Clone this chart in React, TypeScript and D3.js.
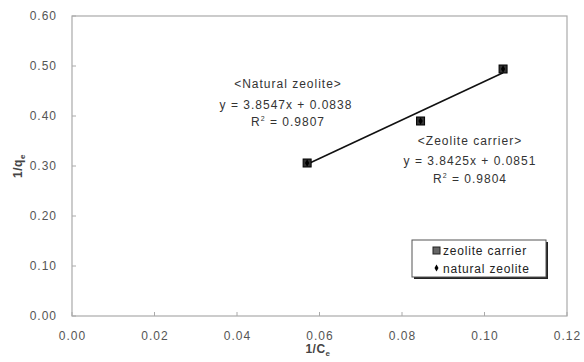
import React from "react";
import * as d3 from "d3";

const xTicks = [0, 0.02, 0.04, 0.06, 0.08, 0.1, 0.12];
const yTicks = [0, 0.1, 0.2, 0.3, 0.4, 0.5, 0.6];
const carrierX = [0.057, 0.0845, 0.1045];
const carrierY = [0.306, 0.39, 0.494];
const naturalX = [0.057, 0.0845, 0.1045];
const naturalY = [0.306, 0.39, 0.494];
const naturalFit = { slope: 3.8547, intercept: 0.0838, r2: "0.9807", label: "<Natural zeolite>", eq: "y = 3.8547x + 0.0838" };
const carrierFit = { slope: 3.8425, intercept: 0.0851, r2: "0.9804", label: "<Zeolite carrier>", eq: "y = 3.8425x + 0.0851" };
const legendLabels = ["zeolite carrier", "natural zeolite"];

const W = 584, H = 362;
const M = { left: 72, top: 16, right: 567, bottom: 316 };

export default function App() {
  const x = d3.scaleLinear().domain([0, 0.12]).range([M.left, M.right]);
  const y = d3.scaleLinear().domain([0, 0.6]).range([M.bottom, M.top]);
  const xmin = d3.min(naturalX)!, xmax = d3.max(naturalX)!;
  const line = d3.line<number>().x((d) => x(d)).y((d) => y(naturalFit.slope * d + naturalFit.intercept));
  const font = "'Liberation Sans', Arial, sans-serif";
  const gray = "#555";
  const axisCol = "#aaa";
  const ls = 1;
  return (
    <svg width={W} height={H} style={{ position: "absolute", left: 0, top: 0, fontFamily: font }}>
      <rect x={0} y={0} width={W} height={H} fill="#fff" />
      <rect x={M.left} y={M.top} width={M.right - M.left} height={M.bottom - M.top} fill="none" stroke={axisCol} strokeWidth={1.2} />
      {yTicks.map((t) => (
        <g key={"y" + t}>
          <line x1={M.left} x2={M.left + 4} y1={y(t)} y2={y(t)} stroke={axisCol} />
          <text x={57} y={y(t)} dy="0.35em" textAnchor="end" fontSize={12} letterSpacing={ls} fill={gray}>{t.toFixed(2)}</text>
        </g>
      ))}
      {xTicks.map((t) => (
        <g key={"x" + t}>
          <line x1={x(t)} x2={x(t)} y1={M.bottom} y2={M.bottom - 4} stroke={axisCol} />
          <text x={x(t) + 0.5} y={339.5} textAnchor="middle" fontSize={12} letterSpacing={ls} fill={gray}>{t.toFixed(2)}</text>
        </g>
      ))}
      <text x={318} y={353} textAnchor="middle" fontSize={12} fontWeight="bold" letterSpacing={0.5} fill="#444">
        1/C<tspan fontSize={8} dy={3}>e</tspan>
      </text>
      <text transform="translate(22,166) rotate(-90)" textAnchor="middle" fontSize={12} fontWeight="bold" letterSpacing={0.5} fill="#444">
        1/q<tspan fontSize={8} dy={3}>e</tspan>
      </text>
      <path d={line([xmin, xmax]) || ""} stroke="#111" strokeWidth={1.6} fill="none" />
      {carrierX.map((d, i) => (
        <rect key={"c" + i} x={x(d) - 4} y={y(carrierY[i]) - 4} width={8} height={8} fill="#333" stroke="#000" strokeWidth={1} />
      ))}
      {naturalX.map((d, i) => (
        <path key={"n" + i} d={d3.symbol(d3.symbolDiamond, 16)() || ""} transform={`translate(${x(d)},${y(naturalY[i])})`} fill="#000" />
      ))}
      <g fontSize={12} letterSpacing={ls} fill="#333" textAnchor="middle">
        <text x={288} y={88}>{naturalFit.label}</text>
        <text x={286} y={109}>{naturalFit.eq}</text>
        <text x={288} y={126}>R<tspan fontSize={7} dy={-5}>2</tspan><tspan dy={5}> = {naturalFit.r2}</tspan></text>
        <text x={470} y={145}>{carrierFit.label}</text>
        <text x={470} y={165}>{carrierFit.eq}</text>
        <text x={470} y={183}>R<tspan fontSize={7} dy={-5}>2</tspan><tspan dy={5}> = {carrierFit.r2}</tspan></text>
      </g>
      <rect x={414} y={242} width={134} height={37} fill="#222" />
      <rect x={412} y={240} width={134} height={37} fill="#fff" stroke="#555" strokeWidth={1} />
      <rect x={433} y={247} width={7} height={7} fill="#666" stroke="#222" />
      <path d={d3.symbol(d3.symbolDiamond, 14)() || ""} transform="translate(436.5,268)" fill="#000" />
      <text x={443} y={255} fontSize={12} letterSpacing={0.8} fill="#222">{legendLabels[0]}</text>
      <text x={443} y={272.5} fontSize={12} letterSpacing={0.8} fill="#222">{legendLabels[1]}</text>
    </svg>
  );
}
